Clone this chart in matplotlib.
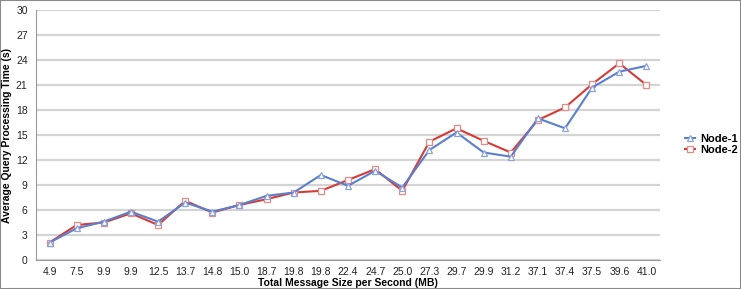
import matplotlib.pyplot as plt
from matplotlib.patches import Rectangle

plt.rcParams['font.family'] = ['Liberation Sans', 'DejaVu Sans']

sizes = ['4.9', '7.5', '9.9', '9.9', '12.5', '13.7', '14.8', '15.0', '18.7', '19.8',
         '19.8', '22.4', '24.7', '25.0', '27.3', '29.7', '29.9', '31.2', '37.1', '37.4',
         '37.5', '39.6', '41.0']
node1 = [2.1, 3.8, 4.6, 5.8, 4.6, 6.9, 5.8, 6.6, 7.7, 8.1,
         10.2, 8.9, 10.7, 8.7, 13.2, 15.3, 12.9, 12.4, 17.0, 15.8,
         20.7, 22.6, 23.3]
node2 = [2.1, 4.2, 4.5, 5.6, 4.2, 7.1, 5.7, 6.6, 7.3, 8.1,
         8.3, 9.6, 10.9, 8.3, 14.2, 15.8, 14.3, 12.9, 16.8, 18.3,
         21.1, 23.6, 21.0]

fig = plt.figure(figsize=(7.41, 2.89), dpi=100)
ax = fig.add_axes([36 / 741, 29 / 289, 624 / 741, 250 / 289])
x = range(len(sizes))

ax.plot(x, node1, color='#5b7fcf', lw=1.5, marker='^', ms=4.5,
        mfc='white', mec='#8aa3dd', mew=0.9, label='Node-1', zorder=3)
ax.plot(x, node2, color='#d63b35', lw=1.5, marker='s', ms=5,
        mfc='white', mec='#e58a86', mew=0.9, label='Node-2', zorder=2)

ax.set_xlim(-0.5, len(sizes) - 0.5)
ax.set_ylim(0, 30)
ax.set_yticks(range(0, 31, 3))
ax.set_xticks(list(x))
ax.set_xticklabels(sizes)
ax.tick_params(length=0, labelsize=7.5, colors='#222222')
ax.tick_params(axis='x', pad=5)
ax.tick_params(axis='y', pad=6)
ax.grid(axis='y', color='#d4d4d4', lw=1.6)
ax.set_axisbelow(True)
for s in ['top', 'right']:
    ax.spines[s].set_visible(False)
ax.spines['left'].set_color('#9a9a9a')
ax.spines['bottom'].set_color('#9a9a9a')

fig.text(348 / 741, 1 - 283 / 289, 'Total Message Size per Second (MB)', fontsize=7.5,
         fontweight='bold', ha='center', va='center')
fig.text(7 / 741, 1 - 135 / 289, 'Average Query Processing Time (s)', fontsize=7.5,
         fontweight='bold', ha='center', va='center', rotation=90)

fig.legend(loc='center left', bbox_to_anchor=(675 / 741, 0.5), frameon=False,
           handlelength=0.9, handletextpad=0.5, labelspacing=0.15,
           prop={'weight': 'bold', 'size': 8})

fig.patches.append(Rectangle((0, 0), 1, 1, transform=fig.transFigure, fill=False,
                             edgecolor='#8a8a8a', lw=1.5))

fig.savefig('out.png', dpi=100)
